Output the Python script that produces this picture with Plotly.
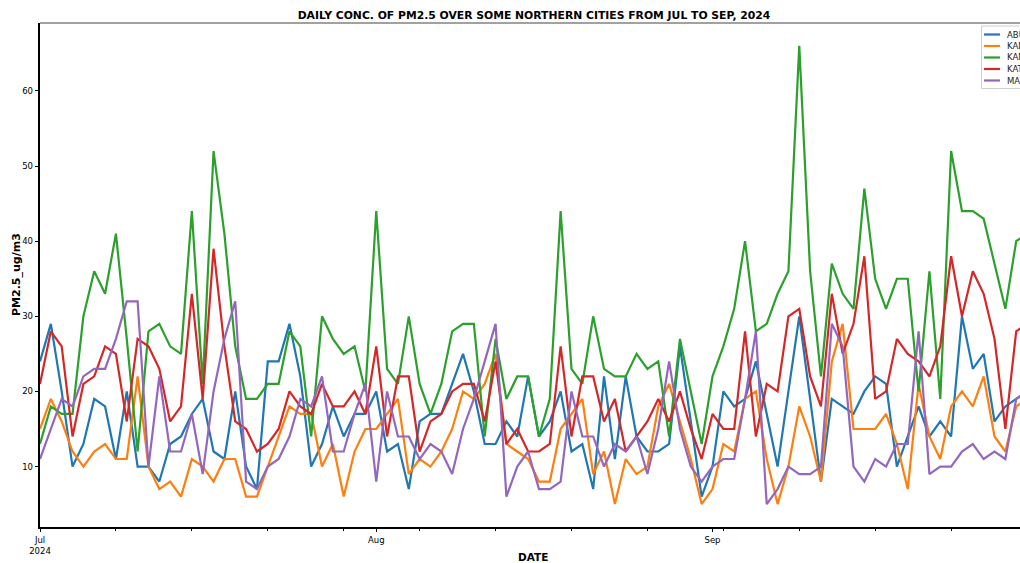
import pandas as pd
import plotly.graph_objects as go

# ---- data (daily PM2.5, Jul 1 - Sep 30, 2024) ----
start_date = "2024-07-01"
n_days = 92
cities = ["ABUJA", "KADUNA", "KANO", "KATSINA", "MAIDUGURI"]
colors = ["#1f77b4", "#ff7f0e", "#2ca02c", "#d62728", "#9467bd"]

abuja = [24, 29, 20, 10, 13, 19, 18, 11, 20, 10, 10, 8, 13, 14, 17, 19, 12, 11, 20, 10,
         7, 24, 24, 29, 22, 10, 13, 18, 14, 17, 17, 20, 12, 13, 7, 16, 17, 17, 21, 25,
         20, 13, 13, 16, 14, 22, 14, 16, 20, 12, 13, 7, 22, 11, 22, 14, 12, 12, 13, 26,
         16, 6, 10, 20, 18, 19, 24, 17, 10, 20, 30, 19, 8, 19, 18, 17, 20, 22, 21, 10,
         14, 18, 14, 16, 14, 30, 23, 25, 16, 18, 19, 20]
kaduna = [15, 19, 16, 12, 10, 12, 13, 11, 11, 22, 10, 7, 8, 6, 11, 10, 8, 11, 11, 6,
          6, 10, 14, 18, 17, 17, 10, 13, 6, 12, 15, 15, 17, 19, 9, 11, 10, 12, 15, 20,
          19, 21, 25, 13, 12, 11, 8, 8, 15, 17, 19, 9, 12, 5, 11, 9, 10, 18, 21, 16,
          11, 5, 7, 13, 12, 19, 20, 11, 5, 10, 18, 14, 8, 24, 29, 15, 15, 15, 17, 13,
          7, 21, 14, 11, 18, 20, 18, 22, 14, 12, 18, 19]
kano = [13, 18, 17, 17, 30, 36, 33, 41, 27, 12, 28, 29, 26, 25, 44, 21, 52, 41, 26, 19,
        19, 21, 21, 28, 26, 14, 30, 27, 25, 26, 20, 44, 23, 21, 30, 21, 17, 21, 28, 29,
        29, 14, 27, 19, 22, 22, 14, 19, 44, 23, 21, 30, 23, 22, 22, 25, 23, 24, 14, 27,
        20, 13, 22, 26, 31, 40, 28, 29, 33, 36, 66, 36, 22, 37, 33, 31, 47, 35, 31, 35,
        35, 20, 36, 19, 52, 44, 44, 43, 37, 31, 40, 41]
katsina = [21, 28, 26, 14, 21, 22, 26, 25, 16, 27, 26, 23, 16, 18, 33, 19, 39, 26, 16, 15,
           12, 13, 15, 20, 18, 17, 21, 18, 18, 20, 17, 26, 14, 22, 22, 12, 16, 17, 20, 21,
           21, 16, 24, 13, 15, 12, 12, 13, 26, 14, 22, 22, 16, 19, 12, 14, 16, 19, 16, 20,
           15, 11, 17, 15, 15, 28, 14, 21, 20, 30, 31, 22, 18, 33, 25, 29, 38, 19, 20, 27,
           25, 24, 22, 26, 38, 30, 36, 33, 27, 15, 28, 29]
maiduguri = [11, 15, 19, 18, 22, 23, 23, 27, 32, 32, 10, 22, 12, 12, 17, 9, 20, 27, 32, 8,
             7, 10, 11, 14, 19, 18, 22, 12, 12, 17, 21, 8, 20, 14, 14, 11, 13, 12, 9, 15,
             19, 24, 29, 6, 10, 12, 7, 7, 8, 20, 14, 14, 10, 13, 12, 14, 9, 15, 24, 15,
             10, 8, 10, 11, 11, 19, 28, 5, 7, 10, 9, 9, 10, 29, 26, 10, 8, 11, 10, 13,
             13, 28, 9, 10, 10, 12, 13, 11, 12, 11, 19, 20]

series = [abuja, kaduna, kano, katsina, maiduguri]
dates = pd.date_range(start_date, periods=n_days, freq="D")

major_tickvals = ["2024-07-01", "2024-08-01", "2024-09-01"]
major_ticktext = ["Jul<br>2024", "Aug", "Sep"]
y_tickvals = [10, 20, 30, 40, 50, 60]

title_text = "DAILY CONC. OF PM2.5 OVER SOME NORTHERN CITIES FROM JUL TO SEP, 2024"

# ---- figure ----
W, H = 1020, 563
L, R, T, B = 40, 0, 23, 36
FONT = "DejaVu Sans"

fig = go.Figure()
for name, vals, col in zip(cities, series, colors):
    fig.add_trace(go.Scatter(x=dates, y=vals, mode="lines", name=name,
                             line=dict(color=col, width=2.2), showlegend=False))

x_end = pd.Timestamp(start_date) + pd.Timedelta(days=90.35)

def px_x(px):
    return (px - L) / (W - L - R)

def px_y(py):
    return (H - B - py) / (H - T - B)

shapes = []
annotations = []
# top spine
shapes.append(dict(type="line", xref="paper", yref="paper", x0=0, x1=1.05, y0=1, y1=1,
                   line=dict(color="#444444", width=1.2), layer="above"))
# manual legend (box is cut by the page edge, as in the reference)
shapes.append(dict(type="rect", xref="paper", yref="paper",
                   x0=px_x(981.5), x1=px_x(1090), y0=px_y(88.5), y1=px_y(26),
                   line=dict(color="#d0d0d0", width=1), fillcolor="rgba(255,255,255,0.85)",
                   layer="above"))
for i, (name, col) in enumerate(zip(cities, colors)):
    yy = 34.5 + i * 11.5
    shapes.append(dict(type="line", xref="paper", yref="paper",
                       x0=px_x(984), x1=px_x(1000), y0=px_y(yy), y1=px_y(yy),
                       line=dict(color=col, width=2.2), layer="above"))
    annotations.append(dict(text=name, xref="paper", yref="paper", x=px_x(1005), y=px_y(yy),
                            xanchor="left", yanchor="middle", showarrow=False,
                            font=dict(family=FONT, size=8.5, color="#222222")))

# axis titles
annotations.append(dict(text="<b>DATE</b>", xref="paper", yref="paper", x=px_x(533), y=px_y(557),
                        xanchor="center", yanchor="middle", showarrow=False,
                        font=dict(family=FONT, size=10.5, color="black")))
annotations.append(dict(text="<b>PM2.5_ug/m3</b>", xref="paper", yref="paper", x=px_x(16), y=px_y(275),
                        xanchor="center", yanchor="middle", showarrow=False, textangle=-90,
                        font=dict(family=FONT, size=11, color="black")))

fig.update_layout(
    width=W, height=H,
    margin=dict(l=L, r=R, t=T, b=B, autoexpand=False),
    paper_bgcolor="white", plot_bgcolor="white",
    font=dict(family=FONT, color="black"),
    title=dict(text="<b>" + title_text + "</b>", x=534 / W, xref="container", xanchor="center",
               y=1 - 15 / H, yref="container", yanchor="middle",
               font=dict(family=FONT, size=10.8, color="black")),
    shapes=shapes, annotations=annotations,
    xaxis=dict(range=[pd.Timestamp(start_date), x_end], showgrid=False, zeroline=False,
               showline=True, linecolor="black", linewidth=1.6,
               tickmode="array", tickvals=major_tickvals, ticktext=major_ticktext,
               ticks="outside", ticklen=3.5, tickwidth=1, tickcolor="black",
               tickfont=dict(family=FONT, size=8.5, color="black"),
               minor=dict(ticks="outside", ticklen=2, tickwidth=0.8, tickcolor="black",
                          dtick=7 * 86400000, tick0="2024-07-08", showgrid=False)),
    yaxis=dict(range=[1.95, 69.05], showgrid=False, zeroline=False,
               showline=True, linecolor="black", linewidth=1.6,
               tickmode="array", tickvals=y_tickvals,
               ticks="outside", ticklen=3.5, tickwidth=1, tickcolor="black",
               tickfont=dict(family=FONT, size=8.5, color="black")),
)

fig.write_html("out.html")
